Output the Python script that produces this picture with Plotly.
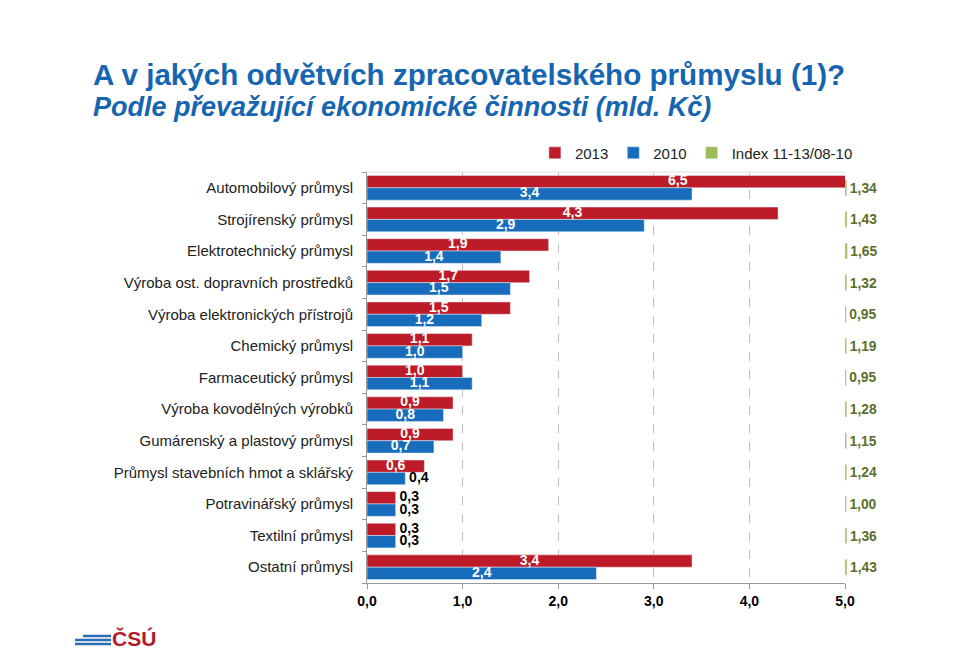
import plotly.graph_objects as go

# data (mld. Kč)
odvetvi = ['Automobilový průmysl', 'Strojírenský průmysl', 'Elektrotechnický průmysl',
           'Výroba ost. dopravních prostředků', 'Výroba elektronických přístrojů',
           'Chemický průmysl', 'Farmaceutický průmysl', 'Výroba kovodělných výrobků',
           'Gumárenský a plastový průmysl', 'Průmysl stavebních hmot a sklářský',
           'Potravinářský průmysl', 'Textilní průmysl', 'Ostatní průmysl']
rok_2013 = [6.5, 4.3, 1.9, 1.7, 1.5, 1.1, 1.0, 0.9, 0.9, 0.6, 0.3, 0.3, 3.4]
rok_2010 = [3.4, 2.9, 1.4, 1.5, 1.2, 1.0, 1.1, 0.8, 0.7, 0.4, 0.3, 0.3, 2.4]
index_vals = [1.34, 1.43, 1.65, 1.32, 0.95, 1.19, 0.95, 1.28, 1.15, 1.24, 1.00, 1.36, 1.43]
x_ticks = [0, 1, 2, 3, 4, 5]

RED = '#BE1B28'
BLUE = '#176DBB'
GREEN = '#9BBB59'
OLIVE = '#5C6E2C'
FONT = 'Liberation Sans, Arial'

pos = list(range(len(odvetvi)))
fmt = lambda v: f'{v:.1f}'.replace('.', ',')

fig = go.Figure()

bw = 0.39
fig.add_trace(go.Bar(name='2013', y=pos, x=rok_2013, orientation='h',
                     marker_color=RED, width=bw, offset=-bw, hoverinfo='x'))
fig.add_trace(go.Bar(name='2010', y=pos, x=rok_2010, orientation='h',
                     marker_color=BLUE, width=bw, offset=0, hoverinfo='x'))
fig.add_trace(go.Bar(name='Index 11-13/08-10', y=pos, x=index_vals, orientation='h',
                     marker_color=GREEN, width=0.5, xaxis='x2',
                     text=[f'{v:.2f}'.replace('.', ',') for v in index_vals],
                     textposition='outside', cliponaxis=False,
                     textfont=dict(size=14, color=OLIVE, family=FONT, weight='bold')))

# value labels: inside (white) for larger bars, outside (black) for small ones
for vals, dy in ((rok_2013, -bw / 2), (rok_2010, bw / 2)):
    inside = [i for i, v in enumerate(vals) if v >= 0.5]
    outside = [i for i, v in enumerate(vals) if v < 0.5]
    fig.add_trace(go.Scatter(
        x=[vals[i] / 2 for i in inside], y=[i + dy for i in inside],
        mode='text', text=[fmt(vals[i]) for i in inside],
        textfont=dict(size=14, color='white', family=FONT, weight='bold'),
        showlegend=False, hoverinfo='skip', cliponaxis=False))
    fig.add_trace(go.Scatter(
        x=[vals[i] for i in outside], y=[i + dy for i in outside],
        mode='text', text=[' ' + fmt(vals[i]) for i in outside], textposition='middle right',
        textfont=dict(size=14, color='black', family=FONT, weight='bold'),
        showlegend=False, hoverinfo='skip', cliponaxis=False))

# the page body has an 8px margin, so the figure is 8px smaller than the window
dom = 478 / 533
fig.update_layout(
    width=952, height=645,
    margin=dict(l=359, r=60, t=164, b=70),
    plot_bgcolor='white', paper_bgcolor='white',
    barmode='overlay',
    font=dict(family=FONT, color='#222222'),
    separators=', ',
    legend=dict(orientation='h', x=0.315, xanchor='left', y=1.046, yanchor='middle',
                font=dict(size=15, color='#222222'), traceorder='normal'),
    xaxis=dict(domain=[0, dom], range=[0, 5], tickvals=x_ticks, tickformat='.1f',
               showgrid=True, gridcolor='#BFBFBF', griddash='dash', gridwidth=1,
               showline=True, linecolor='#999999', ticks='outside', ticklen=5,
               tickcolor='#999999', zeroline=False, automargin=False,
               tickfont=dict(size=14, color='black', family=FONT, weight='bold')),
    xaxis2=dict(domain=[dom, 1], range=[0, 40], anchor='y', visible=False),
    yaxis=dict(range=[len(odvetvi) - 0.5, -0.5], tickvals=pos, ticktext=odvetvi,
               ticks='', showline=True, linecolor='#999999', showgrid=False,
               zeroline=False, ticklabelstandoff=10, automargin=False,
               minor=dict(tick0=0.5, dtick=1, ticks='outside', ticklen=4,
                          tickcolor='#999999'),
               tickfont=dict(size=15, color='#222222')),
)

# helpers: screen pixels -> paper coords (plot area is 367..900 x 172..583 on screen)
def px_x(p):
    return (p - 367) / 533

def px_y(p):
    return (583 - p) / 411

# title lines
fig.add_annotation(text='<b>A v jakých odvětvích zpracovatelského průmyslu (1)?</b>',
                   xref='paper', yref='paper', x=px_x(91), xanchor='left',
                   y=px_y(74), yanchor='middle', showarrow=False,
                   font=dict(size=29.6, color='#1665B0', family=FONT))
fig.add_annotation(text='<b><i>Podle převažující ekonomické činnosti (mld. Kč)</i></b>',
                   xref='paper', yref='paper', x=px_x(91), xanchor='left',
                   y=px_y(107), yanchor='middle', showarrow=False,
                   font=dict(size=27, color='#1665B0', family=FONT))

# faint top border of the plot area
fig.add_shape(type='line', xref='paper', yref='paper', x0=0, x1=dom, y0=1, y1=1,
              line=dict(color='#DDDDDD', width=1))

# ČSÚ logo, bottom left
for yy, x0 in ((636, 83), (640, 75), (644, 75)):
    fig.add_shape(type='line', xref='paper', yref='paper',
                  x0=px_x(x0), x1=px_x(111), y0=px_y(yy), y1=px_y(yy),
                  line=dict(color='#2D6BB3', width=2.5))
fig.add_annotation(text='<b>ČSÚ</b>', xref='paper', yref='paper',
                   x=px_x(110), xanchor='left', y=px_y(638),
                   yanchor='middle', showarrow=False,
                   font=dict(size=21, color='#B01C2E', family=FONT))

fig.write_html("out.html")
